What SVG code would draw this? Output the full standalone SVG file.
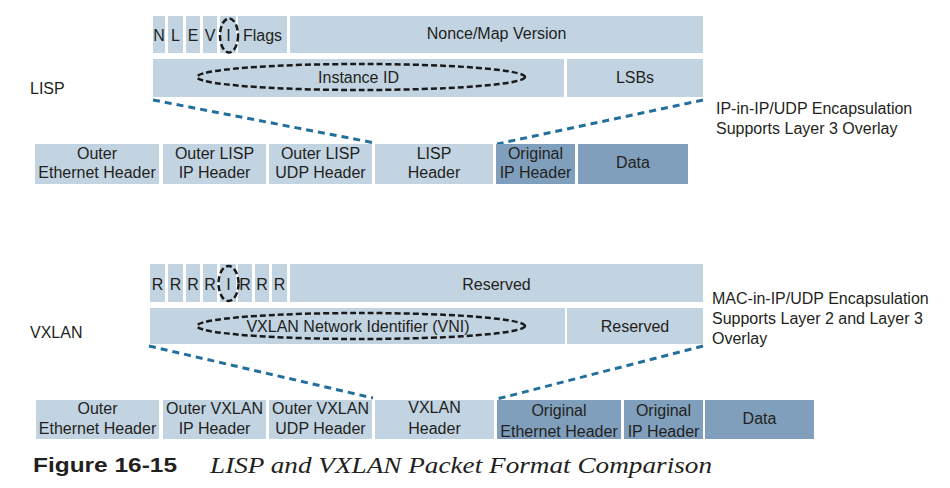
<svg xmlns="http://www.w3.org/2000/svg" width="950" height="488" viewBox="0 0 950 488">
<style>
.l{fill:#c2d3e1}
.d{fill:#809fbd}
text{font-family:"Liberation Sans",Arial,sans-serif;font-size:16px;fill:#231f20}
.m{text-anchor:middle}
.conn{stroke:#236f9c;stroke-width:3;stroke-dasharray:7 5;fill:none}
.ell{stroke:#1a1a1a;stroke-width:2.5;stroke-dasharray:6 3;fill:none}
.cap1{font-weight:bold;font-size:21px;fill:#231f20}
.cap2{font-family:"Liberation Serif","Times New Roman",serif;font-style:italic;font-size:23px;fill:#231f20}
</style>
<rect width="950" height="488" fill="#fff"/>
<g id="connectors">
<line class="conn" x1="153" y1="100" x2="375" y2="143"/>
<line class="conn" x1="703" y1="100" x2="497" y2="144"/>
<line class="conn" x1="149" y1="346" x2="373" y2="398"/>
<line class="conn" x1="703" y1="346" x2="497" y2="399"/>
</g>
<g id="lisp-label"><text x="30" y="94">LISP</text></g>
<g id="lisp-header-fields">
<rect class="l" x="153" y="16" width="12" height="37"/><text class="m" x="159" y="41">N</text>
<rect class="l" x="168" y="16" width="15" height="37"/><text class="m" x="175.5" y="41">L</text>
<rect class="l" x="186" y="16" width="14" height="37"/><text class="m" x="193" y="41">E</text>
<rect class="l" x="203" y="16" width="14" height="37"/><text class="m" x="210" y="41">V</text>
<rect class="l" x="220" y="16" width="16" height="37"/><text class="m" x="228.5" y="41">I</text>
<rect class="l" x="238" y="16" width="49" height="37"/><text class="m" x="262.5" y="41">Flags</text>
<rect class="l" x="290" y="16" width="413" height="37"/><text class="m" x="496.5" y="39">Nonce/Map Version</text>
<rect class="l" x="153" y="59" width="411" height="38"/><text class="m" x="358.5" y="83">Instance ID</text>
<rect class="l" x="567" y="59" width="136" height="38"/><text class="m" x="635" y="83">LSBs</text>
<ellipse class="ell" cx="229" cy="35.5" rx="9" ry="17"/>
<ellipse class="ell" cx="361" cy="77" rx="164" ry="13"/>
</g>
<g id="lisp-note"><text x="716" y="114">IP-in-IP/UDP Encapsulation</text><text x="716" y="134">Supports Layer 3 Overlay</text></g>
<g id="lisp-packet">
<rect class="l" x="35" y="144" width="124" height="40"/><text class="m" x="97" y="159">Outer</text><text class="m" x="97" y="178">Ethernet Header</text>
<rect class="l" x="163" y="144" width="103" height="40"/><text class="m" x="214.5" y="159">Outer LISP</text><text class="m" x="214.5" y="178">IP Header</text>
<rect class="l" x="269" y="144" width="103" height="40"/><text class="m" x="320.5" y="159">Outer LISP</text><text class="m" x="320.5" y="178">UDP Header</text>
<rect class="l" x="375" y="144" width="118" height="40"/><text class="m" x="434" y="159">LISP</text><text class="m" x="434" y="178">Header</text>
<rect class="d" x="496" y="144" width="79" height="40"/><text class="m" x="535.5" y="159">Original</text><text class="m" x="535.5" y="178">IP Header</text>
<rect class="d" x="578" y="144" width="110" height="40"/><text class="m" x="633" y="168">Data</text>
</g>
<g id="vxlan-label"><text x="30" y="338">VXLAN</text></g>
<g id="vxlan-header-fields">
<rect class="l" x="150" y="264" width="15" height="38"/><text class="m" x="157.5" y="290">R</text>
<rect class="l" x="168" y="264" width="15" height="38"/><text class="m" x="175.5" y="290">R</text>
<rect class="l" x="186" y="264" width="14" height="38"/><text class="m" x="193" y="290">R</text>
<rect class="l" x="203" y="264" width="14" height="38"/><text class="m" x="210" y="290">R</text>
<rect class="l" x="220" y="264" width="16" height="38"/><text class="m" x="228.5" y="290">I</text>
<rect class="l" x="238" y="264" width="14" height="38"/><text class="m" x="245" y="290">R</text>
<rect class="l" x="255" y="264" width="14" height="38"/><text class="m" x="262" y="290">R</text>
<rect class="l" x="272" y="264" width="15" height="38"/><text class="m" x="279.5" y="290">R</text>
<rect class="l" x="290" y="264" width="413" height="38"/><text class="m" x="496.5" y="290">Reserved</text>
<rect class="l" x="150" y="308" width="415" height="36"/><text class="m" x="358" y="332">VXLAN Network Identifier (VNI)</text>
<rect class="l" x="567" y="308" width="136" height="36"/><text class="m" x="635" y="332">Reserved</text>
<ellipse class="ell" cx="228.5" cy="283.5" rx="10" ry="17.5"/>
<ellipse class="ell" cx="361" cy="326" rx="164" ry="13"/>
</g>
<g id="vxlan-note"><text x="712" y="304">MAC-in-IP/UDP Encapsulation</text><text x="712" y="324">Supports Layer 2 and Layer 3</text><text x="712" y="344">Overlay</text></g>
<g id="vxlan-packet">
<rect class="l" x="36" y="400" width="123" height="39"/><text class="m" x="97.5" y="414">Outer</text><text class="m" x="97.5" y="434">Ethernet Header</text>
<rect class="l" x="163" y="400" width="103" height="39"/><text class="m" x="214.5" y="414">Outer VXLAN</text><text class="m" x="214.5" y="434">IP Header</text>
<rect class="l" x="269" y="400" width="103" height="39"/><text class="m" x="320.5" y="414">Outer VXLAN</text><text class="m" x="320.5" y="434">UDP Header</text>
<rect class="l" x="375" y="400" width="119" height="39"/><text class="m" x="434.5" y="413">VXLAN</text><text class="m" x="434.5" y="434">Header</text>
<rect class="d" x="497" y="400" width="124" height="39"/><text class="m" x="559" y="416">Original</text><text class="m" x="559" y="437">Ethernet Header</text>
<rect class="d" x="624" y="400" width="79" height="39"/><text class="m" x="663.5" y="416">Original</text><text class="m" x="663.5" y="437">IP Header</text>
<rect class="d" x="705" y="400" width="109" height="39"/><text class="m" x="759.5" y="424">Data</text>
</g>
<g id="caption">
<text class="cap1" x="33" y="472" textLength="144" lengthAdjust="spacingAndGlyphs">Figure 16-15</text>
<text class="cap2" x="210" y="473" textLength="502" lengthAdjust="spacingAndGlyphs">LISP and VXLAN Packet Format Comparison</text>
</g>
</svg>
